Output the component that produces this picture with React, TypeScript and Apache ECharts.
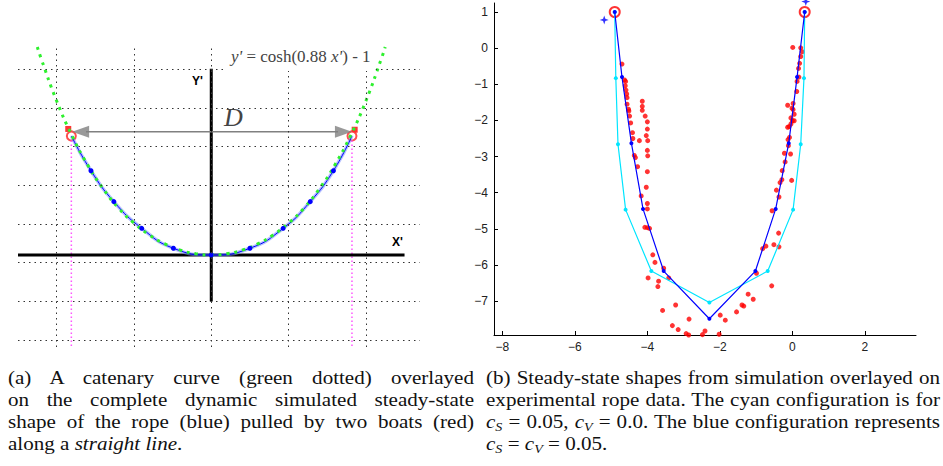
import React, { useEffect, useRef } from 'react';
import * as echarts from 'echarts';

// ---------- Panel (a): catenary schematic ----------
const gridXa = [-2, -1, 0, 1, 2];
const gridYa = [-1.1, -0.6, -0.1, 0.4, 0.9, 1.4, 1.9, 2.4];
const catX = [-2.25, -2.2, -2.0, -1.8, -1.6, -1.4, -1.2, -1.0, -0.8, -0.6, -0.4, -0.2, 0, 0.2, 0.4, 0.6, 0.8, 1.0, 1.2, 1.4, 1.6, 1.8, 2.0, 2.2, 2.25];
const catY = [2.69, 2.538, 1.992, 1.54, 1.166, 0.859, 0.607, 0.413, 0.259, 0.143, 0.0626, 0.0155, 0, 0.0155, 0.0626, 0.143, 0.259, 0.413, 0.607, 0.859, 1.166, 1.54, 1.992, 2.538, 2.69];
const ropeX = [-1.81, -1.556, -1.26, -0.9, -0.49, 0, 0.5, 0.93, 1.28, 1.58, 1.82];
const ropeY = [1.54, 1.09, 0.69, 0.345, 0.087, 0, 0.087, 0.345, 0.69, 1.09, 1.54];
const boatX = [-1.85, 1.855];
const boatY = [1.63, 1.62];
const boatRingX = [-1.81, 1.82];
const boatRingY = [1.54, 1.54];
const axisXa = [-2.5, 2.5];
const axisYa = [2.41, -0.6];
const pinkX = [-1.81, 1.82];
const pinkY = [1.48, -1.19];
const arrowX = [-1.62, 1.64];
const arrowY = 1.595;
const arrowHeadX = [-1.69, 1.71];

// ---------- Panel (b): experiment vs simulation ----------
const xTicksB = [-8, -6, -4, -2, 0, 2];
const yTicksB = [-7, -6, -5, -4, -3, -2, -1, 0, 1];
const blueX = [-4.9, -4.7, -4.44, -4.12, -3.55, -2.29, -1.02, -0.46, -0.1, 0.13, 0.34];
const blueY = [1.0, -0.8, -2.63, -4.45, -6.17, -7.49, -6.17, -4.45, -2.63, -0.8, 1.0];
const cyanX = [-4.9, -4.87, -4.81, -4.6, -3.89, -2.29, -0.68, 0.02, 0.23, 0.32, 0.34];
const cyanY = [1.0, -0.83, -2.66, -4.47, -6.17, -7.04, -6.17, -4.47, -2.66, -0.83, 1.0];
const ringX = [-4.9, 0.34];
const ringY = [1.0, 1.0];
const starX = [-5.19, 0.37];
const starY = [0.78, 1.29];
const expX = [
  -4.7, -4.63, -4.6, -4.61, -4.59, -4.57, -4.56, -4.56, -4.52, -4.51, -4.49, -4.46, -4.41, -4.4, -4.36, -4.33, -4.27, -4.17, -4.07, -4.0, -3.94,
  -4.14, -4.14, -4.14, -4.06, -4.0, -4.0, -4.03, -3.99, -4.22, -4.0, -3.99, -4.0, -4.03, -4.0, -4.0,
  -3.85, -3.79, -3.55, -3.41, -3.98, -3.69, -3.71, -3.58, -3.22, -3.31, -3.15, -2.85, -2.93, -2.86, -2.48, -2.41, -2.02, -1.99, -1.85, -1.54, -1.39, -1.34, -1.22, -1.08, -0.57,
  -0.99, -0.82, -0.73, -0.51, -0.37, -0.38, -0.56, -0.37, -0.44, -0.34, -0.29, -0.28, -0.2, -0.22, -0.05, -0.02, -0.11, -0.12, -0.08, -0.13,
  -0.09, -0.04, 0.0, 0.05, -0.04, 0.05, 0.02, -0.01, -0.13, 0.02, 0.12, 0.13, 0.18, 0.17, 0.2, 0.23, 0.27, 0.23, 0.01,
];
const expY = [
  -0.44, -0.88, -0.92, -1.04, -1.16, -1.27, -1.37, -1.55, -1.69, -1.74, -1.88, -2.07, -2.34, -2.5, -2.97, -3.03, -3.28, -4.09, -4.96, -4.97, -4.99,
  -1.47, -1.61, -1.72, -1.88, -2.04, -2.24, -2.42, -2.56, -2.56, -2.83, -2.98, -3.42, -3.85, -4.3, -4.45,
  -5.72, -5.93, -6.09, -6.36, -6.36, -6.45, -6.6, -7.26, -7.11, -7.68, -7.79, -7.5, -7.9, -7.94, -7.93, -7.83, -7.92, -7.39, -7.53, -7.3, -7.11, -7.14, -6.81, -6.95, -6.58,
  -6.23, -5.55, -5.48, -5.44, -5.5, -5.12, -4.5, -4.12, -3.93, -3.72, -3.64, -3.39, -3.15, -2.91, -2.93, -3.66, -2.7, -2.53, -2.47, -2.19,
  -2.17, -2.1, -2.01, -2.01, -1.93, -1.83, -1.7, -1.66, -1.58, -1.53, -1.2, -0.92, -0.8, -0.56, -0.42, -0.23, -0.1, 0.01, 0.02,
];

const zip = (xs: number[], ys: number[]) => xs.map((x, i) => [x, ys[i]]);
const minus = (v: number) => (v < 0 ? '\u2212' + Math.abs(v) : String(v));

const option: any = {
  animation: false,
  backgroundColor: '#fff',
  grid: [
    { left: 18, top: 47, width: 402, height: 300 },
    { left: 494, top: 3, width: 422, height: 332 },
  ],
  xAxis: [
    { gridIndex: 0, type: 'value', min: -2.5, max: 2.7, show: false },
    {
      gridIndex: 1, type: 'value', min: -8.23, max: 3.41,
      axisLine: { onZero: false, lineStyle: { color: '#000', width: 1 } },
      axisTick: { inside: true, length: 4, customValues: xTicksB, lineStyle: { color: '#000' } },
      axisLabel: { customValues: xTicksB, formatter: minus, color: '#222', fontFamily: 'Liberation Sans', fontSize: 12, margin: 6 },
      splitLine: { show: false },
    },
  ],
  yAxis: [
    { gridIndex: 0, type: 'value', min: -1.19, max: 2.69, show: false },
    {
      gridIndex: 1, type: 'value', min: -7.94, max: 1.25,
      axisLine: { show: true, onZero: false, lineStyle: { color: '#000', width: 1 } },
      axisTick: { show: true, inside: true, length: 4, customValues: yTicksB, lineStyle: { color: '#000' } },
      axisLabel: { customValues: yTicksB, formatter: minus, color: '#222', fontFamily: 'Liberation Sans', fontSize: 12, margin: 6 },
      splitLine: { show: false },
    },
  ],
  series: [
    // panel (a)
    {
      type: 'line', xAxisIndex: 0, yAxisIndex: 0, data: [],
      markLine: {
        silent: true, symbol: ['none', 'none'], label: { show: false },
        lineStyle: { type: [1.5, 4], color: '#333', width: 1 },
        data: [...gridXa.map((v) => ({ xAxis: v })), ...gridYa.map((v) => ({ yAxis: v }))],
      },
    },
    {
      type: 'line', xAxisIndex: 0, yAxisIndex: 0, symbol: 'none',
      data: zip([pinkX[0], pinkX[0]], pinkY), lineStyle: { color: '#ff55ff', width: 1.5, type: [1.5, 2.5] },
    },
    {
      type: 'line', xAxisIndex: 0, yAxisIndex: 0, symbol: 'none',
      data: zip([pinkX[1], pinkX[1]], pinkY), lineStyle: { color: '#ff55ff', width: 1.5, type: [1.5, 2.5] },
    },
    {
      type: 'line', xAxisIndex: 0, yAxisIndex: 0, symbol: 'none',
      data: zip(axisXa, [0, 0]), lineStyle: { color: '#000', width: 3 },
    },
    {
      type: 'line', xAxisIndex: 0, yAxisIndex: 0, symbol: 'none',
      data: zip([0, 0], axisYa), lineStyle: { color: '#000', width: 3 },
    },
    {
      type: 'line', xAxisIndex: 0, yAxisIndex: 0, symbol: 'none', smooth: true,
      data: zip(ropeX, ropeY), lineStyle: { color: 'rgba(120,140,255,0.55)', width: 3.5 },
    },
    {
      type: 'line', xAxisIndex: 0, yAxisIndex: 0, smooth: true,
      data: zip(ropeX, ropeY).map((p, i) => ({ value: p, symbol: i === 0 || i === ropeX.length - 1 ? 'none' : 'circle' })),
      symbolSize: 5, itemStyle: { color: '#0000ff' }, lineStyle: { color: '#0000ff', width: 1 },
    },
    {
      type: 'line', xAxisIndex: 0, yAxisIndex: 0, symbol: 'none', smooth: true,
      data: zip(catX, catY), lineStyle: { color: '#2ef02e', width: 3, type: [3, 5] },
    },
    {
      type: 'scatter', xAxisIndex: 0, yAxisIndex: 0, symbol: 'rect', symbolSize: 6,
      data: zip(boatX, boatY), itemStyle: { color: '#ff0000' },
    },
    {
      type: 'scatter', xAxisIndex: 0, yAxisIndex: 0, symbol: 'emptyCircle', symbolSize: 9,
      data: zip(boatRingX, boatRingY), itemStyle: { color: '#ff2222', borderColor: '#ff2222', borderWidth: 1 },
    },
    {
      type: 'line', xAxisIndex: 0, yAxisIndex: 0, symbol: 'none',
      data: zip(arrowX, [arrowY, arrowY]), lineStyle: { color: '#808080', width: 1.5 },
    },
    {
      type: 'scatter', xAxisIndex: 0, yAxisIndex: 0, symbol: 'triangle', symbolSize: [12, 17],
      data: [
        { value: [arrowHeadX[0], arrowY], symbolRotate: 90 },
        { value: [arrowHeadX[1], arrowY], symbolRotate: -90 },
      ],
      itemStyle: { color: '#808080' },
    },
    // panel (b)
    {
      type: 'scatter', xAxisIndex: 1, yAxisIndex: 1, symbolSize: 5, clip: false,
      data: zip(expX, expY), itemStyle: { color: '#ff0000' },
    },
    {
      type: 'line', xAxisIndex: 1, yAxisIndex: 1, symbol: 'circle', symbolSize: 4,
      data: zip(cyanX, cyanY), itemStyle: { color: '#00e5ff' }, lineStyle: { color: '#00e5ff', width: 1.2 },
    },
    {
      type: 'line', xAxisIndex: 1, yAxisIndex: 1, symbol: 'circle', symbolSize: 4,
      data: zip(blueX, blueY), itemStyle: { color: '#0000ff' }, lineStyle: { color: '#0000ff', width: 1.2 },
    },
    {
      type: 'scatter', xAxisIndex: 1, yAxisIndex: 1, symbol: 'emptyCircle', symbolSize: 10, clip: false,
      data: zip(ringX, ringY), itemStyle: { color: '#ff0000', borderColor: '#ff0000', borderWidth: 1.5 },
    },
    {
      type: 'scatter', xAxisIndex: 1, yAxisIndex: 1, clip: false, symbolSize: 9,
      symbol: 'path://M4,0 L5,3 L8,4 L5,5 L4,8 L3,5 L0,4 L3,3 Z',
      data: zip(starX, starY), itemStyle: { color: '#0000ff' },
    },
  ],
  graphic: [
    {
      type: 'text', left: 226, top: 44, z: 10,
      style: {
        text: "{i|y'} = cosh(0.88 {i|x'}) - 1",
        font: '17px "Liberation Serif"', fill: '#444',
        backgroundColor: '#fff', padding: [4, 5, 6, 5],
        rich: { i: { fontStyle: 'italic', fontFamily: 'Liberation Serif', fontSize: 17, fill: '#444' } },
      },
    },
    { type: 'text', left: 192, top: 75, style: { text: "Y'", font: 'bold 12px "Liberation Sans"', fill: '#000' } },
    { type: 'text', left: 392, top: 236, style: { text: "X'", font: 'bold 12px "Liberation Sans"', fill: '#000' } },
    { type: 'text', left: 224, top: 104, style: { text: 'D', font: 'italic 26px "Liberation Serif"', fill: '#444' } },
  ],
};

const SX = 1.17;
const lineStyle: React.CSSProperties = {
  textAlign: 'justify',
  textAlignLast: 'justify' as any,
  whiteSpace: 'nowrap',
  height: 22,
  lineHeight: '22px',
};
const lastStyle: React.CSSProperties = { height: 22, lineHeight: '22px', textAlign: 'left', whiteSpace: 'nowrap' };

const C = ({ s }: { s: string }) => (
  <span style={{ whiteSpace: 'nowrap' }}>
    <i>c</i>
    <sub style={{ fontSize: '12px', verticalAlign: '-3px', lineHeight: 0 }}><i>{s}</i></sub>
  </span>
);

export default function App() {
  const ref = useRef<HTMLDivElement>(null);
  useEffect(() => {
    const chart = echarts.init(ref.current!, null, { renderer: 'svg' });
    chart.setOption(option);
    return () => chart.dispose();
  }, []);
  const cap: React.CSSProperties = {
    position: 'absolute', top: 367, fontFamily: '"Liberation Serif", serif', fontSize: 18, color: '#111',
    transform: `scaleX(${SX})`, transformOrigin: '0 0',
  };
  return (
    <div style={{ position: 'fixed', left: 0, top: 0, width: 943, height: 466, background: '#fff', overflow: 'hidden' }}>
      <div ref={ref} style={{ position: 'absolute', left: 0, top: 0, width: 943, height: 362 }} />
      <div style={{ ...cap, left: 8, width: 466 / SX }}>
        <div style={lineStyle}>(a) A catenary curve (green dotted) overlayed</div>
        <div style={lineStyle}>on the complete dynamic simulated steady-state</div>
        <div style={lineStyle}>shape of the rope (blue) pulled by two boats (red)</div>
        <div style={lastStyle}>along a <i>straight line</i>.</div>
      </div>
      <div style={{ ...cap, left: 486, width: 454 / SX }}>
        <div style={lineStyle}>(b) Steady-state shapes from simulation overlayed on</div>
        <div style={lineStyle}>experimental rope data. The cyan configuration is for</div>
        <div style={lineStyle}>
          <C s="S" /> = 0.05, <C s="V" /> = 0.0. The blue configuration represents
        </div>
        <div style={lastStyle}>
          <C s="S" /> = <C s="V" /> = 0.05.
        </div>
      </div>
    </div>
  );
}
